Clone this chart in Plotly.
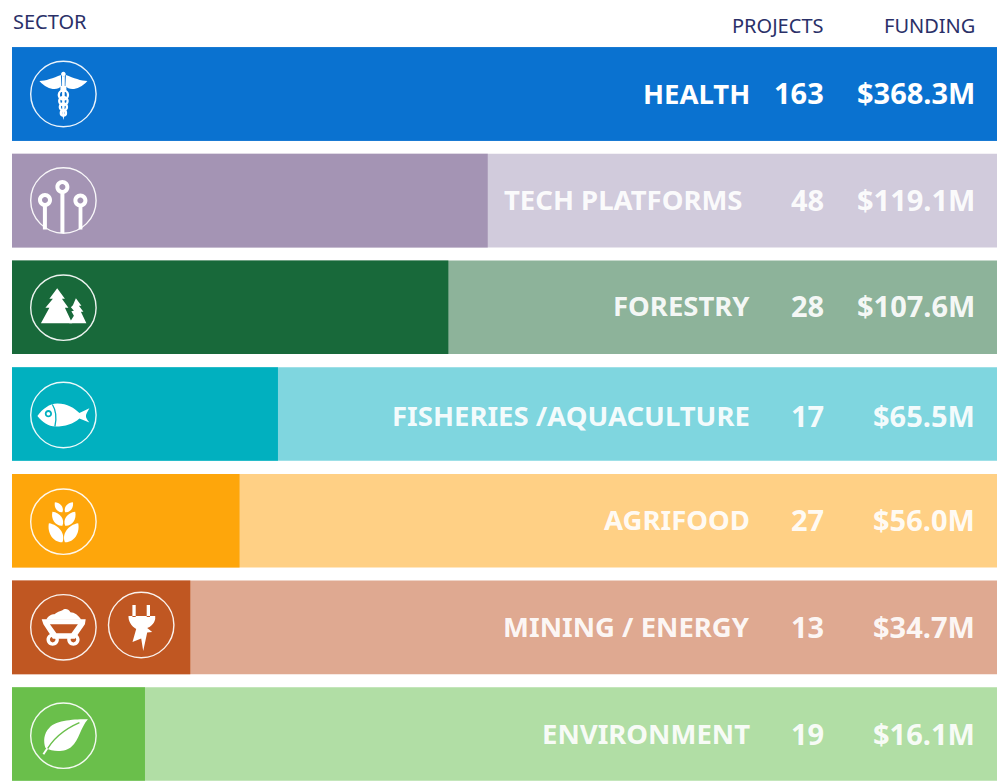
import re
import plotly.graph_objects as go

# --- data ---
sectors = ["HEALTH", "TECH PLATFORMS", "FORESTRY", "FISHERIES /AQUACULTURE", "AGRIFOOD", "MINING / ENERGY", "ENVIRONMENT"]
projects = ["163", "48", "28", "17", "27", "13", "19"]
funding = ["$368.3M", "$119.1M", "$107.6M", "$65.5M", "$56.0M", "$34.7M", "$16.1M"]
bar_share = [100, 48.3, 44.3, 27.0, 23.1, 18.1, 13.5]
track = [100, 100, 100, 100, 100, 100, 100]
solid_colors = ["#0a72d0", "#a494b4", "#18693a", "#01b0bf", "#fea60b", "#c05722", "#6abf4b"]
light_colors = ["#0a72d0", "#d1cbdc", "#8db39a", "#7fd6df", "#ffd085", "#dfa991", "#b1dea5"]
headers = ["SECTOR", "PROJECTS", "FUNDING"]

W, H = 998, 781
L, R, T, B = 12, 1, 47, 0
PW, PH = W - L - R, H - T - B
FONT = "Noto Sans"
rows = list(range(len(sectors)))

fig = go.Figure()
fig.add_bar(y=rows, x=track, orientation="h", marker=dict(color=light_colors, line_width=0), width=0.877, hoverinfo="skip")
fig.add_bar(y=rows, x=bar_share, orientation="h", marker=dict(color=solid_colors, line_width=0), width=0.877, hoverinfo="skip")


def px(x):
    return (x - L) / PW


def py(y):
    return 1 - (y - T) / PH


def to_paper(d, cx, cy):
    toks = re.findall(r"[MLCQZ]|-?\d+\.?\d*", d)
    out, i = [], 0
    for t in toks:
        if t in "MLCQZ":
            out.append(t)
        else:
            if i % 2 == 0:
                out.append(f"{px(cx + float(t)):.5f},")
            else:
                out.append(f"{py(cy + float(t)):.5f}")
            i += 1
    return " ".join(out)


def circ(x, y, r):
    k = 0.5523 * r
    return (f"M {x-r} {y} C {x-r} {y-k} {x-k} {y-r} {x} {y-r} C {x+k} {y-r} {x+r} {y-k} {x+r} {y} "
            f"C {x+r} {y+k} {x+k} {y+r} {x} {y+r} C {x-k} {y+r} {x-r} {y+k} {x-r} {y} Z ")


def rect(x0, y0, x1, y1):
    return f"M {x0} {y0} L {x1} {y0} L {x1} {y1} L {x0} {y1} Z "


def leaf(x1, y1, x2, y2, b):
    dx, dy = x2 - x1, y2 - y1
    nx, ny = -dy * b, dx * b
    a = (x1 + dx * 0.3 + nx, y1 + dy * 0.3 + ny)
    c = (x1 + dx * 0.8 + nx, y1 + dy * 0.8 + ny)
    d = (x1 + dx * 0.3 - nx, y1 + dy * 0.3 - ny)
    e = (x1 + dx * 0.8 - nx, y1 + dy * 0.8 - ny)
    return (f"M {x1} {y1} C {a[0]:.2f} {a[1]:.2f} {c[0]:.2f} {c[1]:.2f} {x2} {y2} "
            f"C {e[0]:.2f} {e[1]:.2f} {d[0]:.2f} {d[1]:.2f} {x1} {y1} Z ")


def shape(d, cx, cy, fill="white", line=None, lw=0):
    fig.add_shape(type="path", xref="paper", yref="paper", path=to_paper(d, cx, cy),
                  fillcolor=fill if fill else "rgba(0,0,0,0)",
                  line=dict(color=line or "rgba(0,0,0,0)", width=lw), layer="above")


def ring(cx, cy):
    shape(circ(0, 0, 32.7), cx, cy, fill=None, line="rgba(255,255,255,0.92)", lw=1.4)


CX = 63.4
# caduceus
cy = 94
ring(CX, cy)
shape("M -24 -13 C -18 -13 -10 -16 -2.5 -19 L -2 -8 C -6 -3 -16 -4 -24 -13 Z "
      "M 24 -13 C 18 -13 10 -16 2.5 -19 L 2 -8 C 6 -3 16 -4 24 -13 Z ", CX, cy)
shape("M -1.4 -18 L 1.4 -18 L 1.2 20 L 0 26 L -1.2 20 Z " + circ(0, -20, 2.3), CX, cy)
shape(rect(-3, -8, 3, -2), CX, cy)
for yy, rr in [(1, 4.6), (7, 4.2), (13, 3.6), (19, 2.6)]:
    shape(circ(0, yy, rr), CX, cy, fill=None, line="white", lw=2.3)

# tech platforms
cy = 200.5
ring(CX, cy)
shape(rect(-3, -10, 1, 32.5) + rect(-20.5, 4, -16.5, 29) + rect(15.2, 4, 19, 29), CX, cy)
for nx, ny in [(-1, -13.5), (-18.4, -0.6), (17, 0)]:
    shape(circ(nx, ny, 7) + circ(nx, ny, 3), CX, cy)

# forestry
cy = 307.7
ring(CX, cy)
shape("M -6.2 -19.5 L 1.5 -9 L -1.5 -9 L 5 0 L 1.5 0 L 8.8 15.5 L -22.5 15.5 L -14 0 L -18 0 L -10.5 -9 L -14 -9 Z ", CX, cy)
shape("M 12.5 -9.5 L 18 -2 L 15.5 -2 L 20 4 L 17.5 4 L 23 15.5 L 5.8 15.5 L 10.5 8 L 8 3.5 L 10.5 3 L 7.5 -0.5 L 9.5 -2.5 Z ", CX, cy)

# fisheries
cy = 415
ring(CX, cy)
shape("M -26 1 C -21 -6 -14 -11.5 -6 -11.5 C 4 -11.5 11 -7 16 -2 L 26 -6.7 C 24 -3 22.5 -1 22.5 1 C 22.5 3 24 5 26 7.5 "
      "L 16 3.5 C 10 9 2 11.5 -8 11.5 C -15 11.5 -21 7 -26 1 Z " + circ(-15, -1.3, 3.6) + circ(-15, -1.3, 1.8), CX, cy)
shape("M -11 -10.5 C -7 -4 -7 5 -8.5 11.5 ", CX, cy, fill=None, line="#01b0bf", lw=1.3)

# agrifood
cy = 521.7
ring(CX, cy)
for p in [(-14.5, 1.5, -1, 20.5, 0.32), (14.8, 1.5, 1.5, 20.5, -0.32), (-11, -10, -1, 4, 0.34), (11.8, -10, 1.8, 4, -0.34),
          (-8.5, -19.5, -1, -9.5, 0.34), (9.5, -19.5, 1.8, -9.5, -0.34)]:
    shape(leaf(*p), CX, cy)

# mining cart
cy = 627.3
ring(CX, cy)
shape("M -21.7 -8 L 22.3 -8 L 21.5 -3 L 11.5 11.5 L -10.5 11.5 L -20 -3 Z M -13.5 -3 L -7 6 L 8 6 L 14.5 -3 Z ", CX, cy)
shape("M -17 -7.5 C -16 -11 -12 -13 -9 -13 C -7 -15 -3 -16 -1 -17 C 1 -19 5 -19 7 -15 C 11 -15 15 -12 18 -7.5 Z ", CX, cy)
shape(circ(-10.7, 12.3, 6.2) + circ(-10.7, 12.3, 2.8) + circ(10, 12.3, 6.2) + circ(10, 12.3, 2.8), CX, cy)

# plug
cx2, cy2 = 141.2, 625
ring(cx2, cy2)
shape(rect(-8.8, -20, -5.5, -8) + rect(5.5, -20, 8.8, -8) +
      "M -12.7 -9 L 14 -9 L 14 -6 C 13 -1 9 2 6 3 L 11 7 L 6 7.5 L 2 26 L 0 13.5 L -8.7 17 L -5 4 C -10 1 -13 -4 -12.7 -9 Z ",
      cx2, cy2)

# environment leaf
cy = 735.7
ring(CX, cy)
shape("M 24.5 -16.5 C 12 -16.5 -7 -16 -14 -8 C -20 -2 -20 6 -18 12 C -10 17 3 16 8 11 C 16 4 17 -8 24.5 -16.5 Z ", CX, cy)
shape("M -18 17 C -12 5 0 -6 16 -13 ", CX, cy, fill=None, line="#6abf4b", lw=1.4)
shape("M -20 18.5 L -16 12.5 ", CX, cy, fill=None, line="white", lw=2)

# texts
sector_dy = [0, -1, -2, 1, -1, -1, -1]
number_dy = [-1, -1, -2, 1, -1, -1, -1]
sector_right = [752, 745, 752, 752, 752, 752, 752]
for i in rows:
    white = "#ffffff" if i == 0 else "rgba(255,255,255,0.93)"
    sfnt = dict(family=FONT, size=27.5, color=white, weight=700)
    nfnt = dict(family=FONT, size=29, color=white, weight=700)
    fig.add_annotation(x=px(sector_right[i]), xref="paper", y=i, yref="y", text=sectors[i], showarrow=False,
                       xanchor="right", yanchor="middle", yshift=-sector_dy[i], font=sfnt)
    fig.add_annotation(x=px(826), xref="paper", y=i, yref="y", text=projects[i], showarrow=False,
                       xanchor="right", yanchor="middle", yshift=-number_dy[i], font=nfnt)
    fig.add_annotation(x=px(977), xref="paper", y=i, yref="y", text=funding[i], showarrow=False,
                       xanchor="right", yanchor="middle", yshift=-number_dy[i], font=nfnt)

hdr_font = dict(family=FONT, size=20, color="#2a3068")
for txt, x, anc, yc in zip(headers, [11, 826, 977], ["left", "right", "right"], [21, 25, 25]):
    fig.add_annotation(x=px(x), xref="paper", y=py(yc), yref="paper", text=txt, showarrow=False,
                       xanchor=anc, yanchor="middle", font=hdr_font)

fig.update_layout(
    width=W, height=H, margin=dict(l=L, r=R, t=T, b=B, pad=0),
    barmode="overlay", showlegend=False, paper_bgcolor="white", plot_bgcolor="white",
    font=dict(family=FONT),
    xaxis=dict(range=[0, 100], visible=False, fixedrange=True),
    yaxis=dict(range=[6.44, -0.44], visible=False, fixedrange=True),
)
fig.write_html("out.html", post_script="document.body.style.margin='0';", config=dict(displayModeBar=False))
